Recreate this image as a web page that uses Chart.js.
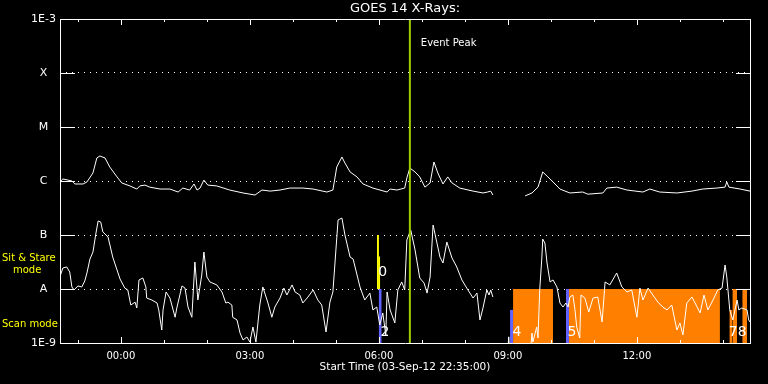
<!DOCTYPE html>
<html>
<head>
<meta charset="utf-8">
<title>GOES 14 X-Rays</title>
<script src="https://cdn.jsdelivr.net/npm/chart.js@4.4.0/dist/chart.umd.min.js"></script>
<style>
  html, body { margin: 0; padding: 0; background: #000; }
  canvas { display: block; }
</style>
</head>
<body>
<canvas id="goes" width="768" height="384"></canvas>
<script>
// time axis in hours from 04-Sep-12 00:00 (plot starts 03-Sep-12 22:35)
const startHour = -85 / 60;
const endHour = 14.63;
const eventPeakHour = 6.72;

const yTickValues = [1e-9, 1e-8, 1e-7, 1e-6, 1e-5, 1e-4, 1e-3];
const yTickLabels = ['1E-9', 'A', 'B', 'C', 'M', 'X', '1E-3'];
const xMajorHours = [0, 3, 6, 9, 12];
const xMajorLabels = ['00:00', '03:00', '06:00', '09:00', '12:00'];

// 1-8 A channel (upper curve)
const longTime = [
  -1.42, -1.35, -1.23, -1.14, -1.07, -0.88, -0.79, -0.65, -0.56, -0.49,
  -0.37, -0.26, -0.09, 0.02, 0.21, 0.37, 0.44, 0.56, 0.67, 0.91,
  1.14, 1.33, 1.44, 1.60, 1.70, 1.77, 1.84, 1.93, 2.02, 2.23,
  2.53, 2.84, 3.12, 3.28, 3.47, 3.70, 3.93, 4.23, 4.47, 4.79,
  4.93, 5.02, 5.14, 5.21, 5.33, 5.49, 5.63, 5.86, 6.19, 6.26,
  6.42, 6.60, 6.65, 6.72, 6.84, 6.95, 7.07, 7.19, 7.28, 7.37,
  7.49, 7.60, 7.70, 7.88, 8.19, 8.42, 8.53, 8.60, 8.65,
  9.00,
  9.40, 9.56, 9.70, 9.81, 9.93, 10.05, 10.21, 10.44, 10.74, 10.86,
  11.21, 11.30, 11.53, 11.77, 12.14, 12.30, 12.53, 12.93, 13.28, 13.53,
  13.86, 14.05, 14.09, 14.14, 14.40, 14.63
];
const longFlux = [
  9.6e-7, 1.09e-6, 1.04e-6, 1.0e-6, 8.8e-7, 8.8e-7, 9.6e-7, 1.41e-6, 2.67e-6, 2.9e-6,
  2.67e-6, 1.82e-6, 1.19e-6, 9.2e-7, 8.1e-7, 7.1e-7, 8.1e-7, 8.4e-7, 7.7e-7, 7.1e-7,
  7.1e-7, 6.25e-7, 7.4e-7, 6.8e-7, 8.8e-7, 6.8e-7, 7.4e-7, 1.04e-6, 8.4e-7, 8.1e-7,
  6.8e-7, 6.0e-7, 5.5e-7, 6.8e-7, 6.5e-7, 6.8e-7, 7.4e-7, 7.4e-7, 7.1e-7, 6.25e-7,
  6.8e-7, 1.82e-6, 2.78e-6, 2.15e-6, 1.47e-6, 1.19e-6, 8.8e-7, 7.4e-7, 6.25e-7, 7.1e-7,
  6.8e-7, 7.4e-7, 1.14e-6, 1.74e-6, 1.47e-6, 1.19e-6, 7.7e-7, 9.2e-7, 2.25e-6, 1.41e-6,
  8.8e-7, 1.19e-6, 9.2e-7, 7.4e-7, 6.5e-7, 6.0e-7, 6.25e-7, 6.5e-7, 5.5e-7,
  null,
  5.3e-7, 6.0e-7, 7.7e-7, 1.47e-6, 1.19e-6, 9.6e-7, 7.1e-7, 6.0e-7, 6.25e-7, 5.7e-7,
  6.0e-7, 7.4e-7, 7.7e-7, 6.8e-7, 6.25e-7, 7.1e-7, 6.25e-7, 6.0e-7, 6.5e-7, 7.1e-7,
  7.4e-7, 7.7e-7, 9.6e-7, 7.7e-7, 7.1e-7, 6.5e-7
];

// 0.5-4 A channel (lower curve)
const shortTime = [
  -1.42, -1.35, -1.26, -1.19, -1.14, -1.09, -1.00, -0.91, -0.84, -0.79,
  -0.72, -0.65, -0.58, -0.53, -0.47, -0.42, -0.30, -0.19, -0.02, 0.09,
  0.16, 0.23, 0.33, 0.37, 0.42, 0.51, 0.58, 0.60, 0.72, 0.84,
  0.88, 0.95, 0.98, 1.05, 1.14, 1.26, 1.30, 1.42, 1.49, 1.56,
  1.65, 1.72, 1.79, 1.88, 1.93, 2.00, 2.07, 2.23, 2.35, 2.44,
  2.49, 2.58, 2.60, 2.70, 2.77, 2.84, 2.93, 3.00, 3.07, 3.14,
  3.23, 3.30, 3.42, 3.51, 3.58, 3.70, 3.79, 3.86, 3.98, 4.05,
  4.16, 4.23, 4.35, 4.47, 4.58, 4.67, 4.77, 4.86, 4.93, 5.00,
  5.05, 5.14, 5.21, 5.33, 5.40, 5.56, 5.67, 5.79, 5.86, 5.95,
  6.02, 6.09, 6.16, 6.19, 6.26, 6.37, 6.44, 6.53, 6.60, 6.65,
  6.74, 6.84, 6.95, 7.05, 7.12, 7.19, 7.26, 7.35, 7.42, 7.49,
  7.58, 7.70, 7.81, 7.93, 8.07, 8.19, 8.28, 8.35, 8.42, 8.51,
  8.56, 8.60, 8.65,
  8.80,
  8.98, 9.02, 9.05, 9.51, 9.56, 9.58, 9.67, 9.70, 9.74, 9.79,
  9.81, 9.86, 9.91, 9.98, 10.05, 10.14, 10.21, 10.28, 10.35, 10.40,
  10.44, 10.51, 10.56, 10.60, 10.67, 10.70, 10.79, 10.88, 10.98, 11.09,
  11.19, 11.26, 11.37, 11.53, 11.65, 11.77, 11.88, 12.00, 12.07, 12.14,
  12.26, 12.37, 12.49, 12.60, 12.70, 12.81, 12.93, 13.00, 13.07, 13.16,
  13.28, 13.40, 13.47, 13.56, 13.65, 13.77, 13.88, 13.98, 14.05, 14.09,
  14.16, 14.23, 14.33, 14.37, 14.44, 14.56, 14.60, 14.63
];
const shortFlux = [
  1.67e-8, 2.45e-8, 2.56e-8, 2.06e-8, 1.09e-8, 9.6e-9, 1.14e-8, 1.09e-8, 1.41e-8, 1.98e-8,
  3.59e-8, 4.84e-8, 1.09e-7, 1.82e-7, 1.74e-7, 1.14e-7, 9.2e-8, 3.9e-8, 1.53e-8, 1.04e-8,
  9.6e-9, 5.05e-9, 5.7e-9, 4.45e-9, 1.47e-8, 1.6e-8, 1.09e-8, 6.8e-9, 6.25e-9, 5.5e-9,
  4.1e-9, 1.74e-9, 4.1e-9, 8.8e-9, 6.8e-9, 3.0e-9, 4.45e-9, 1.14e-8, 1.04e-8, 4.64e-9,
  3.0e-9, 3.16e-8, 6.25e-9, 1.82e-8, 4.84e-8, 1.67e-8, 1.35e-8, 1.19e-8, 8.8e-9, 5.5e-9,
  5.7e-9, 5.05e-9, 3.0e-9, 2.67e-9, 1.53e-9, 1.14e-9, 1.29e-9, 1.04e-9, 1.98e-9, 1.04e-9,
  5.05e-9, 1.09e-8, 5.5e-9, 3.0e-9, 4.64e-9, 6.8e-9, 1.04e-8, 7.74e-9, 1.19e-8, 8.8e-9,
  7.74e-9, 5.5e-9, 7.1e-9, 9.6e-9, 6.25e-9, 5.05e-9, 1.6e-9, 5.7e-9, 8.8e-9, 5.3e-8,
  1.9e-7, 2.06e-7, 1.0e-7, 3.9e-8, 3.59e-8, 1.09e-8, 6.25e-9, 8.4e-9, 4.1e-9, 4.64e-9,
  2.15e-9, 3.6e-9, 1.41e-9, 8.8e-9, 4.1e-9, 2.35e-9, 9.6e-9, 1.35e-8, 9.6e-9, 8.1e-8,
  1.24e-7, 5.3e-8, 1.6e-8, 1.29e-8, 8.4e-9, 1.67e-8, 1.53e-7, 7.1e-8, 3.9e-8, 3.03e-8,
  7.4e-8, 3.75e-8, 2.56e-8, 1.47e-8, 9.6e-9, 6.8e-9, 8.4e-9, 2.67e-9, 4.45e-9, 9.6e-9,
  7.74e-9, 9.6e-9, 7.1e-9,
  null,
  5e-10, 1.3e-9, 5e-10, 5e-10, 1.53e-9, 1.04e-9, 1.98e-9, 1.24e-9, 9.6e-9, 3.9e-8,
  8.4e-8, 7.1e-8, 3.03e-8, 1.35e-8, 1.47e-8, 1.09e-8, 5.5e-9, 4.64e-9, 5.5e-9, 4.64e-9,
  7.1e-9, 7.74e-9, 4.1e-9, 1.98e-9, 1.24e-9, 7.74e-9, 6.8e-9, 3.75e-9, 6.8e-9, 7.1e-9,
  2.45e-9, 1.35e-8, 1.19e-8, 1.98e-8, 1.09e-8, 8.8e-9, 9.6e-9, 3.0e-9, 1.04e-8, 6.25e-9,
  1.04e-8, 7.74e-9, 5.7e-9, 4.64e-9, 4.1e-9, 5.05e-9, 1.74e-9, 2.35e-9, 1.41e-9, 5.5e-9,
  7.1e-9, 4.64e-9, 3.6e-9, 7.74e-9, 4.1e-9, 6.25e-9, 9.6e-9, 1.04e-8, 2.78e-8, 1.67e-8,
  4.1e-9, 2.67e-9, 6.25e-9, 4.1e-9, 4.45e-9, 4.1e-9, 2.67e-9, 2.45e-9
];

// observing blocks: sit & stare (yellow), scan (orange), other (blue)
const stareStart = [5.955, 5.99];
const stareEnd = [6.0, 6.03];
const stareTop = [1e-7, 4e-8];
const stareBase = 1e-8;

const scanStart = [9.12, 10.42, 14.15, 14.22, 14.45];
const scanEnd = [10.05, 13.93, 14.22, 14.33, 14.56];
const scanTop = [1e-8, 1e-8, 4.1e-9, 1e-8, 1e-8];
const scanBase = 1e-9;

const otherStart = [5.995, 9.05, 10.35];
const otherEnd = [6.065, 9.12, 10.42];
const otherTop = [1e-8, 4.1e-9, 1e-8];

const obsNumber = ['0', '2', '4', '5', '7', '8'];
const obsHour = [6.09, 6.14, 9.21, 10.49, 14.24, 14.45];
const obsFlux = [2.06e-8, 1.6e-9, 1.6e-9, 1.6e-9, 1.6e-9, 1.6e-9];

const stareLabelFlux = 2.8e-8;
const scanLabelFlux = 2.2e-9;

const FONT = 'DejaVu Sans';
Chart.defaults.font.family = FONT;
Chart.defaults.font.size = 10;
Chart.defaults.color = '#fff';

function toPoints(times, values) {
    return times.map((t, i) => ({ x: t, y: values[i] }));
}

function blocks(starts, ends, tops, base, color) {
    return starts.map((s, i) => ({
        data: [{ x: s, y: tops[i] }, { x: ends[i], y: tops[i] }],
        borderWidth: 0,
        borderColor: color,
        backgroundColor: color,
        pointRadius: 0,
        fill: { value: base },
        order: 3
    }));
}

var datasets = [
    {
        data: [{ x: eventPeakHour, y: 1e-9 }, { x: eventPeakHour, y: 1e-3 }],
        borderColor: '#a0cc00', borderWidth: 2, pointRadius: 0, order: 0
    },
    {
        data: toPoints(longTime, longFlux),
        borderColor: '#fff', borderWidth: 1, pointRadius: 0, tension: 0, order: 1
    },
    {
        data: toPoints(shortTime, shortFlux),
        borderColor: '#fff', borderWidth: 1, pointRadius: 0, tension: 0, order: 1
    }
]
    .concat(blocks(scanStart, scanEnd, scanTop, scanBase, '#ff8000'))
    .concat(blocks(otherStart, otherEnd, otherTop, scanBase, '#6262ff'))
    .concat(blocks(stareStart, stareEnd, stareTop, stareBase, '#ffff00'));

// box, inward tick marks and annotations
const framePlugin = {
    id: 'frame',
    afterDatasetsDraw(chart) {
        const ctx = chart.ctx;
        const a = chart.chartArea;
        const xs = chart.scales.x;
        const ys = chart.scales.y;
        ctx.save();
        ctx.strokeStyle = '#fff';
        ctx.lineWidth = 1;
        ctx.beginPath();
        ctx.rect(a.left + 0.5, a.top + 0.5, a.right - a.left, a.bottom - a.top);
        yTickValues.forEach(v => {
            const y = Math.round(ys.getPixelForValue(v)) + 0.5;
            ctx.moveTo(a.left, y); ctx.lineTo(a.left + 15, y);
            ctx.moveTo(a.right - 14, y); ctx.lineTo(a.right + 1, y);
        });
        for (let h = Math.ceil(startHour); h <= endHour; h++) {
            const x = Math.round(xs.getPixelForValue(h)) + 0.5;
            const len = xMajorHours.indexOf(h) >= 0 ? 6 : 3;
            ctx.moveTo(x, a.top); ctx.lineTo(x, a.top + len);
            ctx.moveTo(x, a.bottom); ctx.lineTo(x, a.bottom - len);
        }
        ctx.stroke();

        ctx.textBaseline = 'middle';
        ctx.fillStyle = '#fff';
        ctx.font = '10px "' + FONT + '"';
        ctx.textAlign = 'left';
        ctx.fillText('Event Peak', xs.getPixelForValue(eventPeakHour) + 11, a.top + 24);

        ctx.fillStyle = '#ffff00';
        const sy = ys.getPixelForValue(stareLabelFlux);
        ctx.fillText('Sit & Stare', 2, sy - 6);
        ctx.fillText('mode', 13, sy + 6);
        ctx.fillText('Scan mode', 2, ys.getPixelForValue(scanLabelFlux));

        ctx.fillStyle = '#fff';
        ctx.font = '14px "' + FONT + '"';
        ctx.textAlign = 'center';
        obsNumber.forEach((n, i) => {
            ctx.fillText(n, xs.getPixelForValue(obsHour[i]), ys.getPixelForValue(obsFlux[i]));
        });
        ctx.restore();
    }
};

var ctx = document.getElementById('goes').getContext('2d');
var goesChart = new Chart(ctx, {
    type: 'line',
    data: { datasets: datasets },
    options: {
        responsive: false,
        animation: false,
        spanGaps: false,
        layout: { padding: { right: 18 } },
        plugins: {
            legend: { display: false },
            tooltip: { enabled: false },
            title: {
                display: true,
                text: 'GOES 14 X-Rays:',
                color: '#fff',
                fullSize: false,
                font: { size: 13, weight: 'normal', lineHeight: 1.2 },
                padding: { top: 1, bottom: 2.4 }
            }
        },
        scales: {
            x: {
                type: 'linear',
                min: startHour,
                max: endHour,
                afterBuildTicks: scale => {
                    var t = [];
                    for (let h = Math.ceil(startHour); h <= endHour; h++) t.push({ value: h });
                    scale.ticks = t;
                },
                afterFit: scale => { scale.height = 41; },
                grid: { display: false },
                border: { display: false },
                ticks: {
                    autoSkip: false,
                    maxRotation: 0,
                    padding: -1,
                    color: '#fff',
                    callback: v => {
                        const k = xMajorHours.indexOf(v);
                        return k >= 0 ? xMajorLabels[k] : '';
                    }
                },
                title: {
                    display: true,
                    text: 'Start Time (03-Sep-12 22:35:00)',
                    color: '#fff',
                    font: { size: 10.5 },
                    padding: { top: 0, bottom: 10 }
                }
            },
            y: {
                type: 'logarithmic',
                min: 1e-9,
                max: 1e-3,
                afterBuildTicks: scale => {
                    scale.ticks = yTickValues.map(v => ({ value: v }));
                },
                afterFit: scale => { scale.width = 60; },
                grid: { color: '#fff', lineWidth: 1, drawTicks: false, borderDash: [1, 5] },
                border: { display: false, dash: [1, 5] },
                ticks: {
                    crossAlign: 'center',
                    padding: 4,
                    color: '#fff',
                    font: { size: 11 },
                    callback: (v, i) => yTickLabels[i]
                }
            }
        }
    },
    plugins: [framePlugin]
});
</script>
</body>
</html>
